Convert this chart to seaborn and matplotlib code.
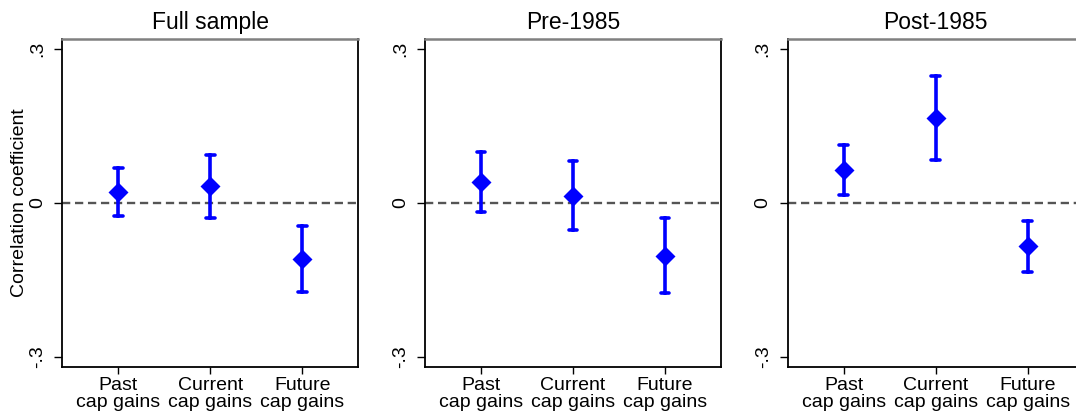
import numpy as np
import pandas as pd
import matplotlib
matplotlib.use("Agg")
import matplotlib.pyplot as plt
import seaborn as sns

# --- datos ---
categories = ["Past\ncap gains", "Current\ncap gains", "Future\ncap gains"]
panels = ["Full sample", "Pre-1985", "Post-1985"]

full_est = [0.021, 0.032, -0.110]
full_lo = [-0.025, -0.030, -0.173]
full_hi = [0.067, 0.094, -0.046]

pre_est = [0.040, 0.014, -0.103]
pre_lo = [-0.018, -0.053, -0.175]
pre_hi = [0.099, 0.081, -0.030]

post_est = [0.064, 0.165, -0.085]
post_lo = [0.015, 0.084, -0.135]
post_hi = [0.112, 0.247, -0.035]

y_ticks = [-0.3, 0, 0.3]
y_ticklabels = ["-.3", "0", ".3"]

# tabla larga: lo / est / hi por categoria -> mediana = estimacion, min/max = IC
rows = []
for panel, est, lo, hi in zip(panels,
                              [full_est, pre_est, post_est],
                              [full_lo, pre_lo, post_lo],
                              [full_hi, pre_hi, post_hi]):
    for cat, e, l, h in zip(categories, est, lo, hi):
        for v in (l, e, h):
            rows.append({"panel": panel, "cat": cat, "value": v})
df = pd.DataFrame(rows)

sns.set_style("ticks")
plt.rcParams["font.family"] = ["Liberation Sans", "DejaVu Sans"]
plt.rcParams["text.color"] = "black"
plt.rcParams["axes.labelcolor"] = "black"
plt.rcParams["xtick.color"] = "black"
plt.rcParams["ytick.color"] = "black"

fig = plt.figure(figsize=(10.76, 4.17), dpi=100)
W, H = 1076, 417
lefts = [62.3, 425.0, 787.7]
width = 296.0
top, bottom = 38.7, 367.0

for i, panel in enumerate(panels):
    ax = fig.add_axes([lefts[i] / W, 1 - bottom / H, width / W, (bottom - top) / H])
    sub = df[df["panel"] == panel]
    ax.axhline(0, color="#555555", lw=1.7, dashes=(3.5, 2), zorder=1)
    sns.pointplot(data=sub, x="cat", y="value", order=categories,
                  estimator="median", errorbar=lambda v: (v.min(), v.max()),
                  color="#0000FF", marker="D", markersize=8, linestyle="none",
                  capsize=0.095, err_kws={"linewidth": 2.6}, ax=ax)
    ax.set_xlim(-0.609, 2.609)
    ax.set_ylim(-0.32, 0.32)
    ax.set_yticks(y_ticks)
    ax.set_yticklabels(y_ticklabels, rotation=90, va="center")
    ax.set_xlabel("")
    ax.set_ylabel("Correlation coefficient" if i == 0 else "", fontsize=14, labelpad=1)
    ax.set_title(panel, fontsize=16.5, pad=7)
    for lbl in ax.get_xticklabels():
        lbl.set_linespacing(1.0)
    ax.tick_params(axis="x", labelsize=14, length=5, width=1, pad=2.5, colors="black")
    ax.tick_params(axis="y", labelsize=14, length=5.5, width=1, pad=6, colors="black")
    for s in ["left", "bottom", "right"]:
        ax.spines[s].set_color("black")
        ax.spines[s].set_linewidth(1.3)
        ax.spines[s].set_visible(True)
    ax.spines["top"].set_visible(True)
    ax.spines["top"].set_color("#808080")
    ax.spines["top"].set_linewidth(1.8)

fig.savefig("out.png", dpi=100)
